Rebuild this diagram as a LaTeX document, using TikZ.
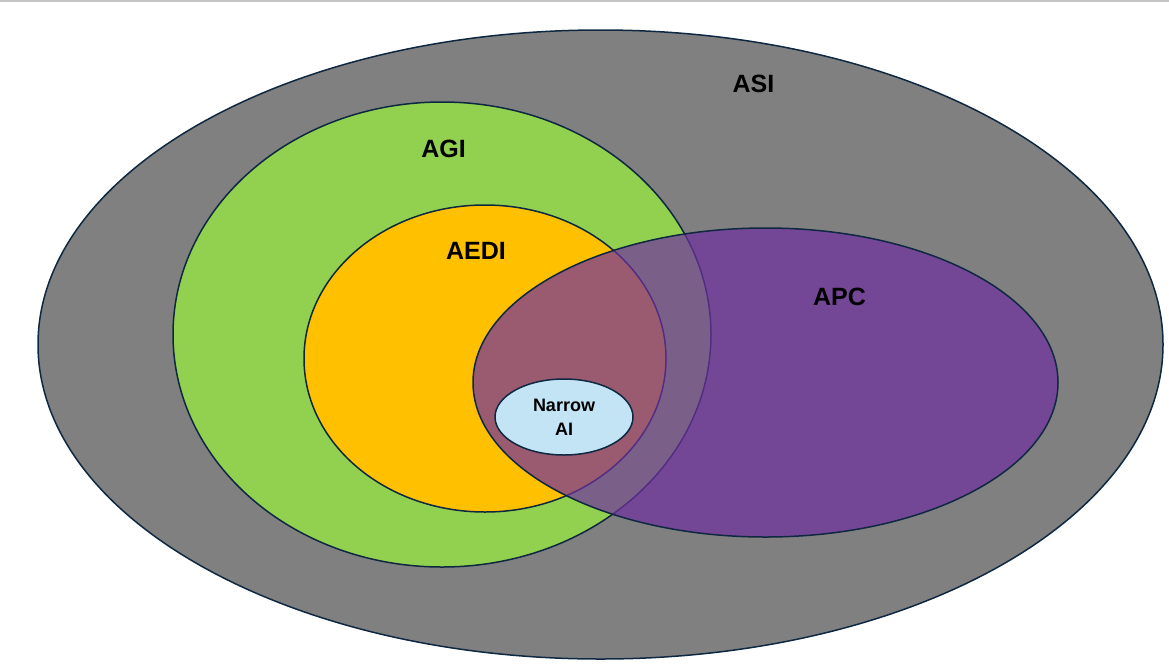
\documentclass[tikz,border=0pt]{standalone}
\usepackage{fontspec}
\setmainfont{Liberation Sans}
\usetikzlibrary{shapes.geometric}
\definecolor{edge}{HTML}{0E2841}
\definecolor{asigray}{HTML}{808080}
\definecolor{agigreen}{HTML}{92D050}
\definecolor{aediyellow}{HTML}{FFC000}
\definecolor{apcpurple}{HTML}{7030A0}
\definecolor{narrowblue}{HTML}{C2E4F4}
\definecolor{topline}{HTML}{C4C4C4}
\tikzset{
  set/.style={ellipse, draw=edge, line width=1.5pt, inner sep=0pt, outer sep=0pt},
  biglabel/.style={font=\bfseries\fontsize{25}{30}\selectfont, text=black, inner sep=0pt},
  smalllabel/.style={font=\bfseries\fontsize{18}{24}\selectfont, text=black, align=center, inner sep=0pt}
}
\begin{document}
\begin{tikzpicture}[x=1pt,y=-1pt]
\useasboundingbox (0,0) rectangle (1169,667);
\draw[topline, line width=1.5pt] (0,0.75) -- (1169,0.75);
\node[set, fill=asigray, minimum width=1125pt, minimum height=629pt] (asi) at (600.5,344.5) {};
\node[set, fill=agigreen, minimum width=538pt, minimum height=465pt] (agi) at (442,334.5) {};
\node[set, fill=aediyellow, minimum width=362pt, minimum height=307pt] (aedi) at (485,358.5) {};
\node[set, fill=apcpurple, fill opacity=0.7, minimum width=585pt, minimum height=309pt] (apc) at (765.5,382.5) {};
\node[set, fill=narrowblue, minimum width=138pt, minimum height=76pt] (narrow) at (564,417) {};
\node[biglabel] (asil) at (753.5,83.5) {ASI};
\node[biglabel] (agil) at (443.5,149) {AGI};
\node[biglabel] (aedil) at (476,251) {AEDI};
\node[biglabel] (apcl) at (839.5,296.5) {APC};
\node[smalllabel] (narrowl) at (564,417) {Narrow\\AI};
\end{tikzpicture}
\end{document}
